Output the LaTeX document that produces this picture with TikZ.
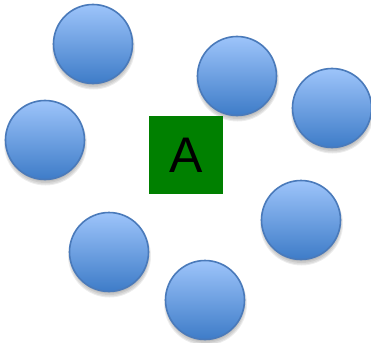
\documentclass[tikz,border=0pt]{standalone}
\usepackage{fontspec}
\setmainfont{Liberation Sans}
\definecolor{balltop}{RGB}{157,196,250}
\definecolor{ballbot}{RGB}{62,124,200}
\definecolor{ballline}{RGB}{74,122,186}
\definecolor{boxgreen}{RGB}{0,128,0}
\tikzset{
  ball/.style={circle, minimum size=79pt, inner sep=0pt, top color=balltop, bottom color=ballbot, draw=ballline, line width=1.6pt},
  ballshadow/.style={fill=black, opacity=0.07},
  abox/.style={rectangle, fill=boxgreen, minimum width=73.5pt, minimum height=77.5pt, inner sep=0pt, font=\fontsize{50}{50}\selectfont, text=black}
}
\newcommand{\myshadow}[1]{%
  \fill[ballshadow] ($(#1)+(0.5,4)$) circle (41.5);
  \fill[ballshadow] ($(#1)+(0.5,4)$) circle (40.5);
  \fill[ballshadow] ($(#1)+(0.5,3.5)$) circle (39.5);
  \fill[ballshadow] ($(#1)+(0.5,3)$) circle (38.5);
}
\usetikzlibrary{calc}
\begin{document}
\begin{tikzpicture}[x=1pt,y=-1pt]
\useasboundingbox (0,0) rectangle (371,342);
\coordinate (p1) at (93,44);
\coordinate (p2) at (237,76);
\coordinate (p3) at (332,108);
\coordinate (p4) at (45,140);
\coordinate (p5) at (301,220);
\coordinate (p6) at (109,252);
\coordinate (p7) at (205,300);
\foreach \p in {p1,p2,p3,p4,p5,p6,p7} {\myshadow{\p}}
\node[ball] (c1) at (p1) {};
\node[ball] (c2) at (p2) {};
\node[ball] (c3) at (p3) {};
\node[ball] (c4) at (p4) {};
\node[ball] (c5) at (p5) {};
\node[ball] (c6) at (p6) {};
\node[ball] (c7) at (p7) {};
\node[abox] (A) at (185.8,155) {A};
\end{tikzpicture}
\end{document}
